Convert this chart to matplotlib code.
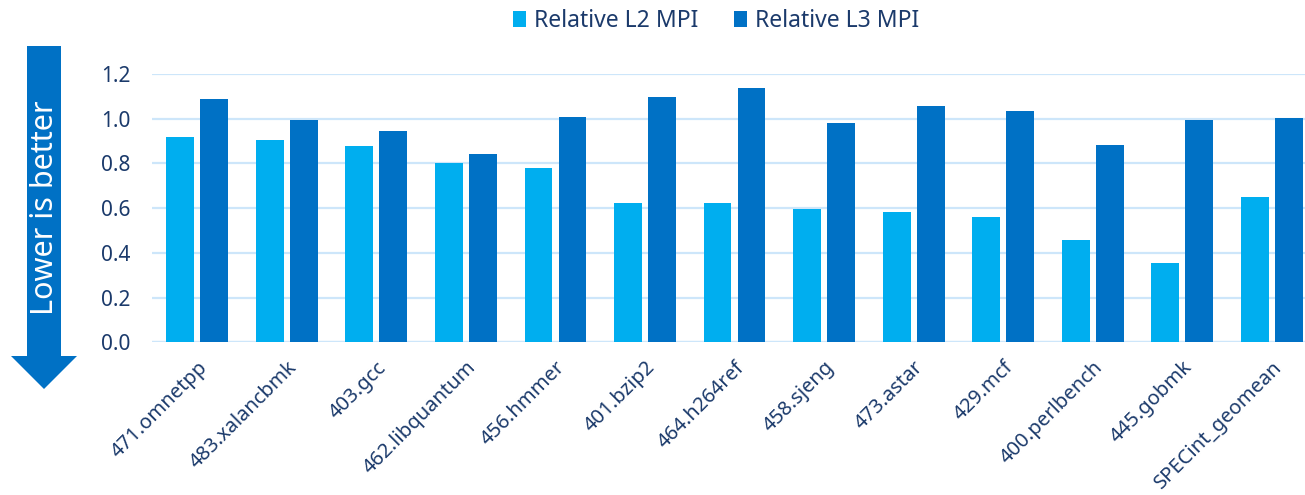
import matplotlib
matplotlib.use("Agg")
import matplotlib.pyplot as plt
from matplotlib.patches import Polygon
import numpy as np

plt.rcParams['font.family'] = ['Noto Sans', 'DejaVu Sans']

categories = ["471.omnetpp", "483.xalancbmk", "403.gcc", "462.libquantum", "456.hmmer",
              "401.bzip2", "464.h264ref", "458.sjeng", "473.astar", "429.mcf",
              "400.perlbench", "445.gobmk", "SPECint_geomean"]
l2_mpi = [0.92, 0.905, 0.88, 0.80, 0.78, 0.623, 0.622, 0.595, 0.581, 0.562, 0.456, 0.355, 0.648]
l3_mpi = [1.09, 0.996, 0.947, 0.842, 1.008, 1.096, 1.136, 0.982, 1.058, 1.033, 0.883, 0.994, 1.003]
yticks = [0.0, 0.2, 0.4, 0.6, 0.8, 1.0, 1.2]
series_names = ["Relative L2 MPI", "Relative L3 MPI"]

C_L2 = "#00AEEF"
C_L3 = "#0071C5"
TXT = "#1B3A6B"
GRID = "#CDE6FA"

fig = plt.figure(figsize=(13.05, 4.95), dpi=100)
ax = fig.add_axes([152.4 / 1305, 1 - 342.3 / 495, 1 - 152.4 / 1305, (342.3 - 74) / 495])

x = np.arange(len(categories))
w = 0.31
off = 0.19
b1 = ax.bar(x - off, l2_mpi, w, color=C_L2, label=series_names[0], zorder=3)
b2 = ax.bar(x + off, l3_mpi, w, color=C_L3, label=series_names[1], zorder=3)

ax.set_xlim(-0.5, 12.37)
ax.set_ylim(0, 1.2)
ax.set_yticks(yticks)
ax.set_yticklabels([f"{v:.1f}" for v in yticks], color=TXT, fontsize=15)
ax.yaxis.grid(True, color=GRID, linewidth=1.6, zorder=0)
ax.set_axisbelow(True)
for s in ax.spines.values():
    s.set_visible(False)
ax.tick_params(axis='both', length=0)
ax.tick_params(axis='y', pad=16)
ax.set_xticks(x)
ax.set_xticklabels(categories, rotation=45, ha='right', va='top', rotation_mode='anchor',
                   color=TXT, fontsize=14.5)
ax.tick_params(axis='x', pad=11)
ax.axhline(0, color=GRID, linewidth=1.6, zorder=1)

leg = fig.legend(handles=[b1, b2], labels=series_names, loc='center',
                 bbox_to_anchor=(716 / 1305, 1 - 21 / 495), ncol=2, frameon=False,
                 fontsize=16.5, handlelength=0.57, handleheight=0.65, handletextpad=0.35,
                 columnspacing=1.57)
for t in leg.get_texts():
    t.set_color(TXT)

# "Lower is better" arrow (decoration)
H = 495.0
W = 1305.0
def fp(px, py):
    return (px / W, 1 - py / H)
pts = [fp(27, 46), fp(61, 46), fp(61, 356), fp(77, 356), fp(44, 389), fp(11, 356), fp(27, 356)]
arrow = Polygon(pts, closed=True, transform=fig.transFigure, facecolor=C_L3, edgecolor='none')
fig.patches.append(arrow)
fig.text(45 / W, 1 - 208 / H, "Lower is better", rotation=90, color='white',
         fontsize=22, ha='center', va='center')

fig.savefig("out.png", dpi=100)
